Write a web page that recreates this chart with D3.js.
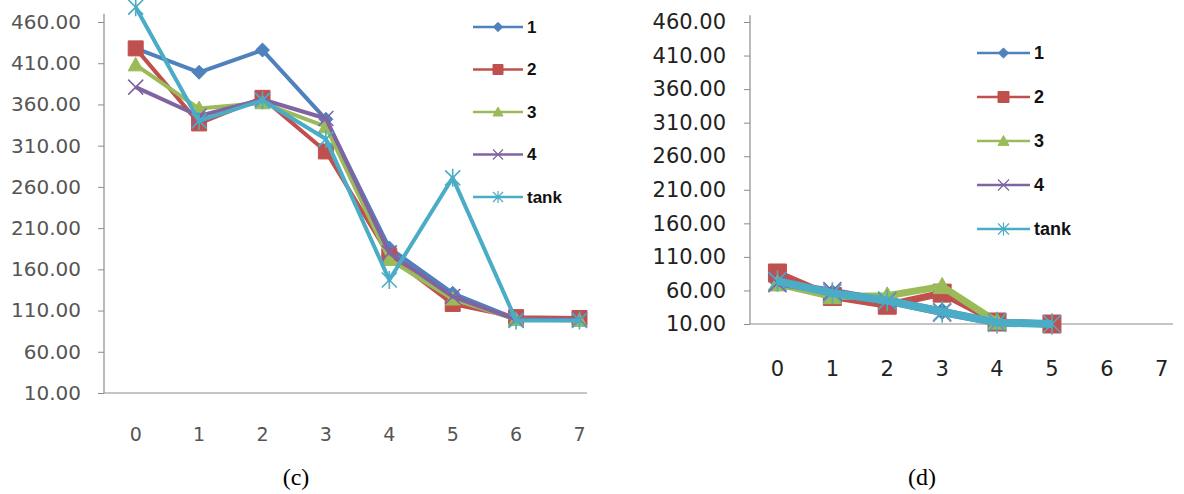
<!DOCTYPE html>
<html>
<head>
<meta charset="utf-8">
<script src="https://cdn.jsdelivr.net/npm/d3@7"></script>
<style>
  html, body { margin: 0; padding: 0; background: #fff; }
  svg { display: block; }
</style>
</head>
<body>
<svg id="chart" width="1184" height="494"></svg>
<script>
// Shared categories and axis ticks
const categories = [0, 1, 2, 3, 4, 5, 6, 7];
const yTicks = [10, 60, 110, 160, 210, 260, 310, 360, 410, 460];
const seriesNames = ["1", "2", "3", "4", "tank"];
const seriesColors = ["#4F81BD", "#C0504D", "#9BBB59", "#8064A2", "#4BACC6"];
const seriesMarkers = ["diamond", "square", "triangle", "x", "star"];

// Panel (c) values
const c1    = [428, 399, 426, 342, 186, 131, 100, 99];
const c2    = [428, 337, 368, 303, 176, 118, 102, 101];
const c3    = [408, 355, 362, 333, 172, 124,  99,  98];
const c4    = [381, 346, 366, 343, 180, 127,  99,  99];
const cTank = [478, 340, 365, 318, 147, 271,  98,  98];

// Panel (d) values (series stop where measurements end)
const d1    = [73, 56, 46, 29, 12, 10, null, null];
const d2    = [86, 51, 38, 56, 13, 10, null, null];
const d3v   = [70, 51, 52, 66, 13, null, null, null];
const d4    = [71, 59, 44, 27, 12, null, null, null];
const dTank = [74, 56, 45, 28, 12, 10, null, null];

const svg = d3.select("#chart");

function markerPath(type, s) {
  const h = s / 2;
  switch (type) {
    case "diamond": return d3.symbol(d3.symbolDiamond2, s * s * 0.55)();
    case "square":  return `M${-h},${-h}H${h}V${h}H${-h}Z`;
    case "triangle": return `M0,${-h}L${h},${h * 0.8}L${-h},${h * 0.8}Z`;
    case "x": return `M${-h},${-h}L${h},${h}M${-h},${h}L${h},${-h}`;
    case "star": return `M${-h},${-h}L${h},${h}M${-h},${h}L${h},${-h}M0,${-h * 1.2}V${h * 1.2}`;
  }
}

function drawMarker(g, type, color, s, sw) {
  const filled = type === "diamond" || type === "square" || type === "triangle";
  g.append("path")
    .attr("d", markerPath(type, s))
    .attr("fill", filled ? color : "none")
    .attr("stroke", color)
    .attr("stroke-width", filled ? 1 : sw);
}

function drawPanel(cfg) {
  const g = svg.append("g");
  const x = d3.scaleBand().domain(categories).range([cfg.left, cfg.left + cfg.band * categories.length]);
  const y = d3.scaleLinear().domain([10, 470]).range([cfg.bottom, cfg.bottom - (cfg.bottom - cfg.y460) * 460 / 450]);
  const cx = d => x(d) + x.bandwidth() / 2;

  // Axes
  const axisColor = "#8C8C8C";
  g.append("line").attr("x1", cfg.left).attr("x2", cfg.left)
    .attr("y1", y(470)).attr("y2", y(10)).attr("stroke", axisColor).attr("stroke-width", 1.2);
  g.append("line").attr("x1", cfg.left).attr("x2", cfg.axisEnd)
    .attr("y1", y(10)).attr("y2", y(10)).attr("stroke", axisColor).attr("stroke-width", 1.2);

  const yAxis = d3.axisLeft(y).tickValues(yTicks).tickSize(6).tickPadding(cfg.yPad)
    .tickFormat(d3.format(".2f"));
  const ya = g.append("g").attr("transform", `translate(${cfg.left},0)`).call(yAxis);
  ya.select(".domain").remove();
  ya.selectAll("line").attr("stroke", axisColor);
  ya.selectAll("text").attr("font-family", "DejaVu Sans").attr("font-size", cfg.tickFont)
    .attr("fill", cfg.textColor);

  g.selectAll("text.xlab").data(categories).join("text")
    .attr("class", "xlab")
    .attr("x", d => cx(d)).attr("y", cfg.xLabelY)
    .attr("text-anchor", "middle").attr("dominant-baseline", "central")
    .attr("font-family", "DejaVu Sans").attr("font-size", cfg.xFont)
    .attr("fill", cfg.textColor).text(d => d);

  // Series lines and markers
  const line = d3.line().defined(d => d.v != null).x(d => cx(d.c)).y(d => y(d.v));
  cfg.series.forEach((vals, i) => {
    const pts = categories.map((c, k) => ({ c, v: vals[k] }));
    const sg = g.append("g");
    sg.append("path").datum(pts).attr("d", line)
      .attr("fill", "none").attr("stroke", seriesColors[i])
      .attr("stroke-width", cfg.lineW[i]).attr("stroke-linejoin", "round");
    pts.filter(p => p.v != null).forEach(p => {
      const mg = sg.append("g").attr("transform", `translate(${cx(p.c)},${y(p.v)})`);
      drawMarker(mg, seriesMarkers[i], seriesColors[i], cfg.markSize, 1.6);
    });
  });

  // Legend
  seriesNames.forEach((name, i) => {
    const ly = cfg.legY + i * cfg.legStep;
    const lg = g.append("g");
    lg.append("line").attr("x1", cfg.legX).attr("x2", cfg.legX + cfg.legLen)
      .attr("y1", ly).attr("y2", ly).attr("stroke", seriesColors[i]).attr("stroke-width", 2.5);
    const mg = lg.append("g").attr("transform", `translate(${cfg.legX + cfg.legLen / 2},${ly})`);
    drawMarker(mg, seriesMarkers[i], seriesColors[i], cfg.legMark, 1.2);
    lg.append("text").attr("x", cfg.legX + cfg.legLen + 4).attr("y", ly)
      .attr("dominant-baseline", "central")
      .attr("font-family", "Liberation Sans").attr("font-weight", "bold")
      .attr("font-size", cfg.legFont).attr("fill", "#111").text(name);
  });

  // Caption
  g.append("text").attr("x", cfg.capX).attr("y", 477)
    .attr("text-anchor", "middle").attr("dominant-baseline", "central")
    .attr("font-family", "Liberation Serif").attr("font-size", 24)
    .attr("fill", "#000").text(cfg.caption);
}

drawPanel({
  left: 104, band: 63.4, bottom: 393, y460: 22, axisEnd: 587,
  yPad: 17, tickFont: 20, xFont: 19, xLabelY: 434, textColor: "#555",
  series: [c1, c2, c3, c4, cTank], lineW: [4, 4, 4, 4, 4], markSize: 15,
  legX: 473, legY: 27, legStep: 42.5, legLen: 50, legMark: 10, legFont: 17,
  capX: 296, caption: "(c)"
});

drawPanel({
  left: 750, band: 54.9, bottom: 324, y460: 22, axisEnd: 1173,
  yPad: 18, tickFont: 21, xFont: 21, xLabelY: 369, textColor: "#222",
  series: [d1, d2, d3v, d4, dTank], lineW: [7, 7, 7, 7, 8], markSize: 18,
  legX: 977, legY: 53, legStep: 44, legLen: 53, legMark: 11, legFont: 18,
  capX: 922, caption: "(d)"
});
</script>
</body>
</html>
